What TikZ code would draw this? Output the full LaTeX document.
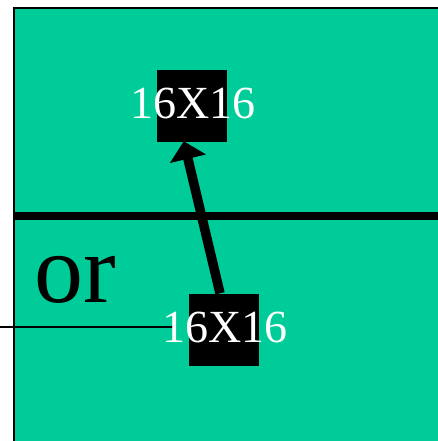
\documentclass[tikz,border=0pt]{standalone}
\usepackage{fontspec}
\setmainfont{Liberation Serif}
\usetikzlibrary{arrows.meta}
\definecolor{bggreen}{RGB}{0,204,153}
\begin{document}
\begin{tikzpicture}[x=1pt,y=-1pt,
  blockbox/.style={fill=black,draw=none,minimum width=70pt,minimum height=72pt,inner sep=0pt},
  blocklabel/.style={text=white,font=\fontsize{46}{46}\selectfont,inner sep=0pt},
]
\useasboundingbox (0,0) rectangle (438,441);
\fill[bggreen,draw=black,line width=2pt] (14,8) rectangle (460,460);
\coordinate (divL) at (14,216);
\coordinate (divR) at (440,216);
\draw[line width=8pt] (divL) -- (divR);
\node[blockbox] (top) at (192,106) {};
\node[blockbox] (bot) at (223.5,329.5) {};
\draw[line width=9.5pt,-{Triangle[width=36pt,length=18pt]},shorten >=-1pt] (bot.north -| 220,0) -- (top.south -| 184,0);
\coordinate (lout) at (0,327);
\coordinate (lin) at (175,327);
\draw[line width=2pt] (lout) -- (lin);
\node[blocklabel] (toplabel) at (193,103) {16X16};
\node[blocklabel] (botlabel) at (225,327) {16X16};
\node[font=\fontsize{98}{98}\selectfont,inner sep=0pt,anchor=base west] (or) at (34,302) {or};
\end{tikzpicture}
\end{document}
